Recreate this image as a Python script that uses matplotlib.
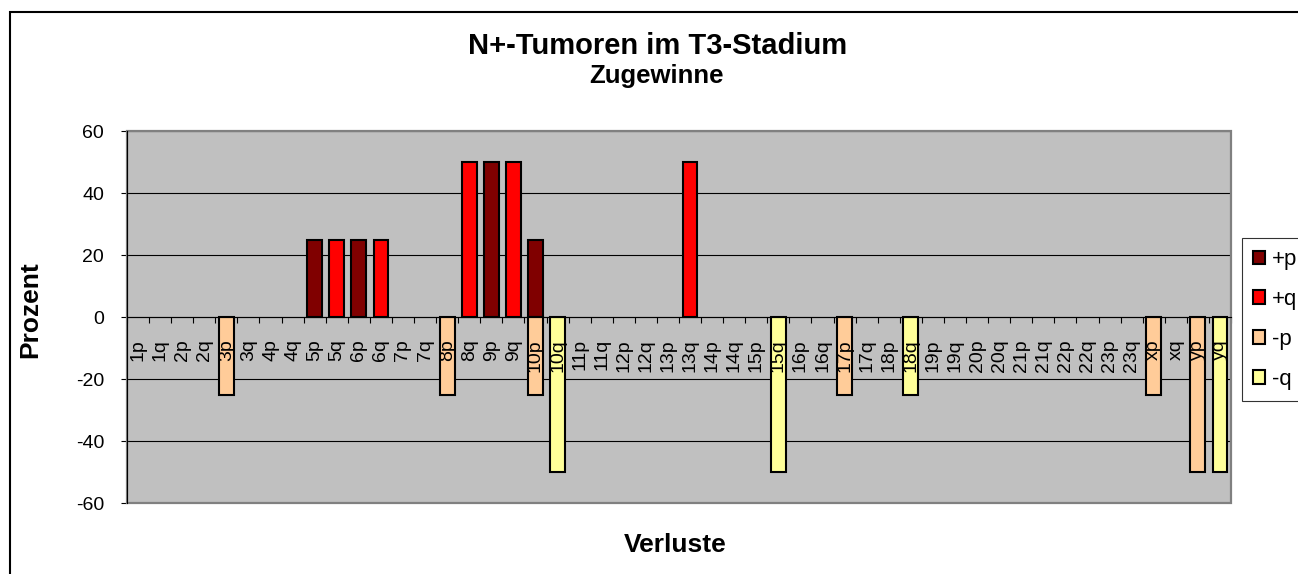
import numpy as np
import matplotlib
matplotlib.use("Agg")
import matplotlib.pyplot as plt
from matplotlib.patches import Rectangle
from matplotlib.transforms import offset_copy

plt.rcParams['font.family'] = ['Liberation Sans', 'DejaVu Sans']

# Chromosome arms on the category axis
categories = ['1p', '1q', '2p', '2q', '3p', '3q', '4p', '4q', '5p', '5q',
              '6p', '6q', '7p', '7q', '8p', '8q', '9p', '9q', '10p', '10q',
              '11p', '11q', '12p', '12q', '13p', '13q', '14p', '14q', '15p', '15q',
              '16p', '16q', '17p', '17q', '18p', '18q', '19p', '19q', '20p', '20q',
              '21p', '21q', '22p', '22q', '23p', '23q', 'xp', 'xq', 'yp', 'yq']

# Percentages per series (gains positive, losses negative)
gain_p = {'5p': 25, '6p': 25, '9p': 50, '10p': 25}
gain_q = {'5q': 25, '6q': 25, '8q': 50, '9q': 50, '13q': 50}
loss_p = {'3p': -25, '8p': -25, '10p': -25, '17p': -25, 'xp': -25, 'yp': -50}
loss_q = {'10q': -50, '15q': -50, '18q': -25, 'yq': -50}

series_names = ['+p', '+q', '-p', '-q']
series_colors = ['#800000', '#FF0000', '#FFCC99', '#FFFF99']
series_data = [gain_p, gain_q, loss_p, loss_q]

y_ticks = [-60, -40, -20, 0, 20, 40, 60]

W, H = 1298, 574
fig = plt.figure(figsize=(W / 100, H / 100), dpi=100)

left, right, top, bottom = 127, 1231, 131, 503
ax = fig.add_axes([left / W, 1 - bottom / H, (right - left) / W, (bottom - top) / H])
ax.set_facecolor('#C0C0C0')

x = np.arange(len(categories))
for name, color, data in zip(series_names, series_colors, series_data):
    vals = np.array([data.get(c, 0) for c in categories], dtype=float)
    mask = vals != 0
    ax.bar(x[mask], vals[mask], width=0.67, color=color, edgecolor='black',
           linewidth=1.5, zorder=3, label=name)

ax.set_xlim(-0.5, len(categories) - 0.5)
ax.set_ylim(-60, 60)
ax.set_yticks(y_ticks)
ax.set_yticklabels([str(v) for v in y_ticks], fontsize=14)
ax.yaxis.grid(True, color='black', linewidth=0.8, zorder=1)
ax.set_axisbelow(True)

# Category axis crosses at zero
ax.spines['bottom'].set_position(('data', 0))
ax.spines['bottom'].set_color('black')
ax.spines['bottom'].set_linewidth(0.8)
ax.spines['bottom'].set_zorder(4)
ax.spines['top'].set_visible(False)
ax.spines['right'].set_visible(False)
ax.spines['left'].set_color('black')
ax.spines['left'].set_linewidth(0.8)
ax.spines['left'].set_zorder(5)

# Boundary ticks on the zero line; category names drawn on top of the bars
ax.set_xticks([])
ax.set_xticks(np.arange(-0.5, len(categories), 1.0), minor=True)
ax.tick_params(axis='x', which='minor', length=4, width=0.8, direction='out', color='black')
ax.tick_params(axis='y', which='major', length=4.5, width=0.8, direction='out', pad=12)

label_tf = offset_copy(ax.transData, fig=fig, x=0, y=-16, units='points')
for xi, cat in zip(x, categories):
    ax.text(xi, 0, cat, transform=label_tf, rotation=90, ha='center', va='top',
            fontsize=14, zorder=6, clip_on=False)

# Grey frame of the plot area
ax.add_patch(Rectangle((0, 0), 1, 1, transform=ax.transAxes, fill=False,
                       edgecolor='#808080', linewidth=1.6, zorder=2, clip_on=False))

# Outer chart frame
fig.patches.append(Rectangle((10 / W, -0.2), 1.2, 1.2 - 12 / H,
                             transform=fig.transFigure, fill=False,
                             edgecolor='black', linewidth=1.5))

# Titles and axis captions
fig.text(658 / W, 1 - 46 / H, 'N+-Tumoren im T3-Stadium', ha='center', va='center',
         fontsize=21, fontweight='bold')
fig.text(657 / W, 1 - 76 / H, 'Zugewinne', ha='center', va='center',
         fontsize=18.5, fontweight='bold')
fig.text(675 / W, 1 - 545 / H, 'Verluste', ha='center', va='center',
         fontsize=19, fontweight='bold')
fig.text(30 / W, 1 - 310 / H, 'Prozent', ha='center', va='center', rotation=90,
         fontsize=19, fontweight='bold')

# Legend on the right side
handles = [Rectangle((0, 0), 1, 1, facecolor=c, edgecolor='black', linewidth=1.5)
           for c in series_colors]
leg = fig.legend(handles, series_names, loc='upper left',
                 bbox_to_anchor=(1242 / W, 1 - 238 / H), bbox_transform=fig.transFigure,
                 fontsize=16, frameon=True, fancybox=False, shadow=False,
                 handlelength=0.55, handleheight=0.55, handletextpad=0.3,
                 labelspacing=0.85, borderpad=0.5, borderaxespad=0)
leg.get_frame().set_edgecolor('black')
leg.get_frame().set_linewidth(0.8)

fig.savefig('out.png', dpi=100)
